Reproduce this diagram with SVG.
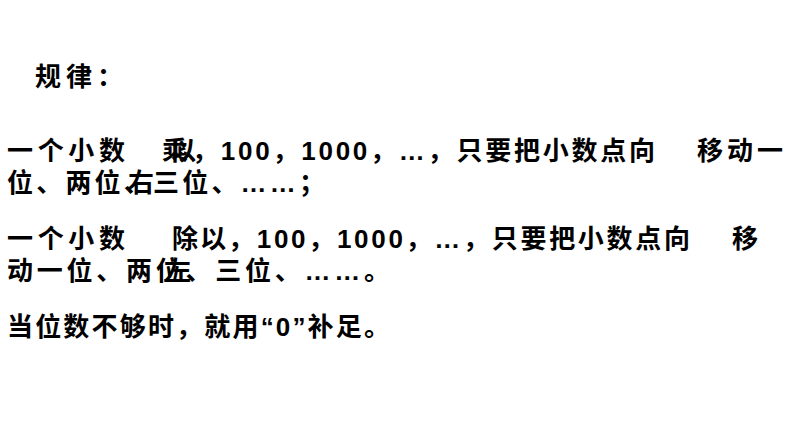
<svg xmlns="http://www.w3.org/2000/svg" width="794" height="447" viewBox="0 0 794 447">
<style>text{font-family:"Liberation Sans","Noto Sans CJK SC",sans-serif;font-weight:bold;font-size:26px;fill:#000}</style>
<rect width="794" height="447" fill="#fff"/>
<g id="title"><text x="35" y="86" font-size="28" textLength="88">规律：</text></g>
<g id="rule1">
<text x="7" y="160" textLength="118">一个小数</text>
<text x="162" y="160">乘</text>
<text x="170" y="160">以</text>
<text x="192" y="160" textLength="463">，100，1000，…，只要把小数点向</text>
<text x="697" y="160" textLength="86">移动一</text>
<text x="7" y="192" textLength="318">位、两位、三位、……；</text>
<text x="128" y="192">右</text>
</g>
<g id="rule2">
<text x="7" y="248" textLength="118">一个小数</text>
<text x="172" y="248">除</text>
<text x="200" y="248">以</text>
<text x="228" y="248" textLength="462">，100，1000，…，只要把小数点向</text>
<text x="732" y="248">移</text>
<text x="7" y="280" textLength="383">动一位、两位、三位、……。</text>
<text x="165" y="280">左</text>
</g>
<g id="rule3"><text x="7" y="336" textLength="383">当位数不够时，就用“0”补足。</text></g>
</svg>
